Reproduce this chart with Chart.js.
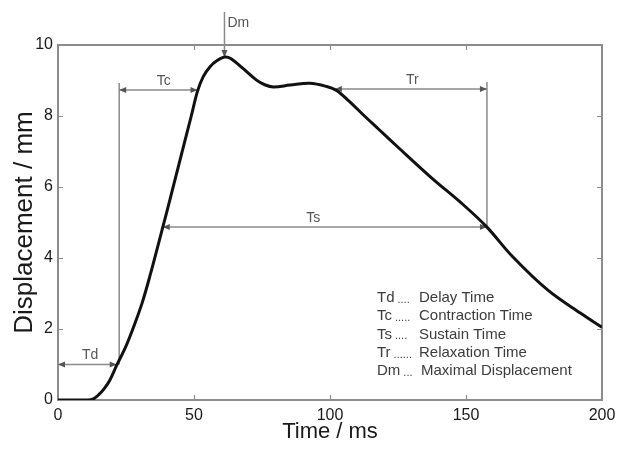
<!DOCTYPE html>
<html>
<head>
<meta charset="utf-8">
<title>Displacement / time</title>
<script src="https://cdn.jsdelivr.net/npm/chart.js@4.4.1/dist/chart.umd.min.js"></script>
<style>
  html, body { margin: 0; padding: 0; background: #fff; }
  #wrap { width: 617px; height: 450px; }
</style>
</head>
<body>
<div id="wrap"><canvas id="chart" width="617" height="450"></canvas></div>
<script>
// Displacement curve
const timeMs = [0, 11, 13, 15, 17, 19, 21.6, 25, 28, 31, 34, 37, 40, 43, 46, 49, 51.3, 53.4, 55.9, 58.5, 61.2,
    63.5, 68, 73, 76, 79.2, 85.3, 92.6, 98.8, 102.4, 107, 112, 118, 125, 137, 149, 157.7, 167, 180, 192, 200];
const displacementMm = [0, 0, 0.03, 0.15, 0.32, 0.55, 0.98, 1.52, 2.1, 2.75, 3.55, 4.42, 5.3, 6.2, 7.1, 8.0, 8.7, 9.11, 9.39, 9.56, 9.66,
    9.62, 9.34, 9.01, 8.88, 8.82, 8.87, 8.92, 8.83, 8.72, 8.42, 8.05, 7.62, 7.12, 6.28, 5.5, 4.87, 4.05, 3.1, 2.45, 2.05];

// Tick values
const xTicks = [0, 50, 100, 150, 200];
const yTicks = [0, 2, 4, 6, 8, 10];

// Time intervals (double arrows): from / to in ms, level in mm, label position in ms
const spanNames = ['Td', 'Tc', 'Ts', 'Tr'];
const spanFrom = [0, 22.5, 38.5, 101.8];
const spanTo = [21.6, 51.3, 157.7, 157.7];
const spanLevel = [1.0, 8.73, 4.87, 8.76];
const spanLabelAt = [11.8, 38.9, 93.8, 130.3];

// Vertical guide lines: at ms, from mm, to mm
const guideAt = [22.5, 157.7];
const guideFrom = [1.0, 4.87];
const guideTo = [8.93, 8.96];

// Maximal displacement
const peakMs = 61.2;
const peakMm = 9.66;

// Key text
const keyShort = ['Td', 'Tc', 'Ts', 'Tr', 'Dm'];
const keyDots = ['....', '.....', '....', '......', '...'];
const keyLong = ['Delay Time', 'Contraction Time', 'Sustain Time', 'Relaxation Time', 'Maximal Displacement'];

const FONT = '"Liberation Sans", Arial, Helvetica, sans-serif';

function arrowHead(ctx, px, py, dir) {
    const l = 7, w = 3;
    ctx.beginPath();
    if (dir === 'left') { ctx.moveTo(px, py); ctx.lineTo(px + l, py - w); ctx.lineTo(px + l, py + w); }
    if (dir === 'right') { ctx.moveTo(px, py); ctx.lineTo(px - l, py - w); ctx.lineTo(px - l, py + w); }
    if (dir === 'down') { ctx.moveTo(px, py); ctx.lineTo(px - w, py - l); ctx.lineTo(px + w, py - l); }
    ctx.closePath();
    ctx.fill();
}

// frame, inward ticks, interval arrows and the key
const markersPlugin = {
    id: 'markers',
    beforeDatasetsDraw(chart) {
        const { ctx, chartArea: a, scales: { x, y } } = chart;
        ctx.save();

        // frame box
        ctx.strokeStyle = '#8c8c8c';
        ctx.lineWidth = 2;
        ctx.strokeRect(a.left, a.top, a.right - a.left, a.bottom - a.top);

        // inward tick marks on all four sides
        ctx.lineWidth = 1.2;
        ctx.beginPath();
        xTicks.slice(1, -1).forEach(v => {
            const px = Math.round(x.getPixelForValue(v)) + 0.5;
            ctx.moveTo(px, a.bottom); ctx.lineTo(px, a.bottom - 5);
            ctx.moveTo(px, a.top); ctx.lineTo(px, a.top + 5);
        });
        yTicks.slice(1, -1).forEach(v => {
            const py = Math.round(y.getPixelForValue(v)) + 0.5;
            ctx.moveTo(a.left, py); ctx.lineTo(a.left + 5, py);
            ctx.moveTo(a.right, py); ctx.lineTo(a.right - 5, py);
        });
        ctx.stroke();

        // guide lines
        ctx.strokeStyle = '#8a8a8a';
        ctx.lineWidth = 1.5;
        ctx.beginPath();
        guideAt.forEach((t, i) => {
            const px = x.getPixelForValue(t);
            ctx.moveTo(px, y.getPixelForValue(guideFrom[i]));
            ctx.lineTo(px, y.getPixelForValue(guideTo[i]));
        });
        ctx.stroke();

        // interval arrows with labels
        ctx.fillStyle = '#555';
        ctx.font = '14px ' + FONT;
        ctx.textAlign = 'center';
        ctx.textBaseline = 'bottom';
        spanNames.forEach((name, i) => {
            const x0 = x.getPixelForValue(spanFrom[i]);
            const x1 = x.getPixelForValue(spanTo[i]);
            const py = y.getPixelForValue(spanLevel[i]);
            ctx.beginPath();
            ctx.moveTo(x0, py); ctx.lineTo(x1, py);
            ctx.stroke();
            arrowHead(ctx, x0, py, 'left');
            arrowHead(ctx, x1, py, 'right');
            ctx.fillText(name, x.getPixelForValue(spanLabelAt[i]), py - 2);
        });

        // Dm marker above the peak
        const pkx = x.getPixelForValue(peakMs);
        const pky = y.getPixelForValue(peakMm);
        ctx.beginPath();
        ctx.moveTo(pkx, a.top - 33); ctx.lineTo(pkx, pky);
        ctx.stroke();
        arrowHead(ctx, pkx, pky, 'down');
        ctx.textAlign = 'left';
        ctx.textBaseline = 'middle';
        ctx.fillText('Dm', pkx + 3, a.top - 22);

        // key in the lower right
        ctx.fillStyle = '#3c3c3c';
        keyShort.forEach((k, i) => {
            const py = a.top + 253 + i * 18.2;
            ctx.font = '15px ' + FONT;
            ctx.fillText(k, a.left + 319, py);
            const w = ctx.measureText(k).width;
            ctx.font = '11px ' + FONT;
            ctx.fillText(keyDots[i], a.left + 319 + w + 3, py + 2);
            ctx.font = '15px ' + FONT;
            ctx.fillText(keyLong[i], a.left + 361 + (i === 4 ? 2 : 0), py);
        });

        ctx.restore();
    }
};

const points = timeMs.map((t, i) => ({ x: t, y: displacementMm[i] }));

new Chart(document.getElementById('chart'), {
    type: 'line',
    data: {
        datasets: [{
            data: points,
            borderColor: '#111',
            borderWidth: 3,
            pointRadius: 0,
            tension: 0.35,
            fill: false
        }]
    },
    options: {
        responsive: false,
        animation: false,
        layout: { padding: { top: 45, right: 15, left: 0, bottom: 0 } },
        plugins: { legend: { display: false }, tooltip: { enabled: false } },
        scales: {
            x: {
                type: 'linear',
                min: 0,
                max: 200,
                afterBuildTicks: s => { s.ticks = xTicks.map(v => ({ value: v })); },
                afterFit: s => { s.height = 50; s.paddingLeft = 0; s.paddingRight = 0; },
                grid: { display: false, drawTicks: false },
                border: { display: false },
                ticks: { color: '#1a1a1a', padding: 6, font: { family: FONT, size: 16 } },
                title: { display: true, text: 'Time / ms', color: '#1a1a1a', padding: { top: 0, bottom: 5 }, font: { family: FONT, size: 22 } }
            },
            y: {
                min: 0,
                max: 10,
                afterBuildTicks: s => { s.ticks = yTicks.map(v => ({ value: v })); },
                afterFit: s => { s.width = 58; s.paddingTop = 0; s.paddingBottom = 0; },
                grid: { display: false, drawTicks: false },
                border: { display: false },
                ticks: { color: '#1a1a1a', padding: 5, font: { family: FONT, size: 16 } },
                title: { display: true, text: 'Displacement / mm', color: '#1a1a1a', padding: { top: 9, bottom: 0 }, font: { family: FONT, size: 26 } }
            }
        }
    },
    plugins: [markersPlugin]
});
</script>
</body>
</html>
